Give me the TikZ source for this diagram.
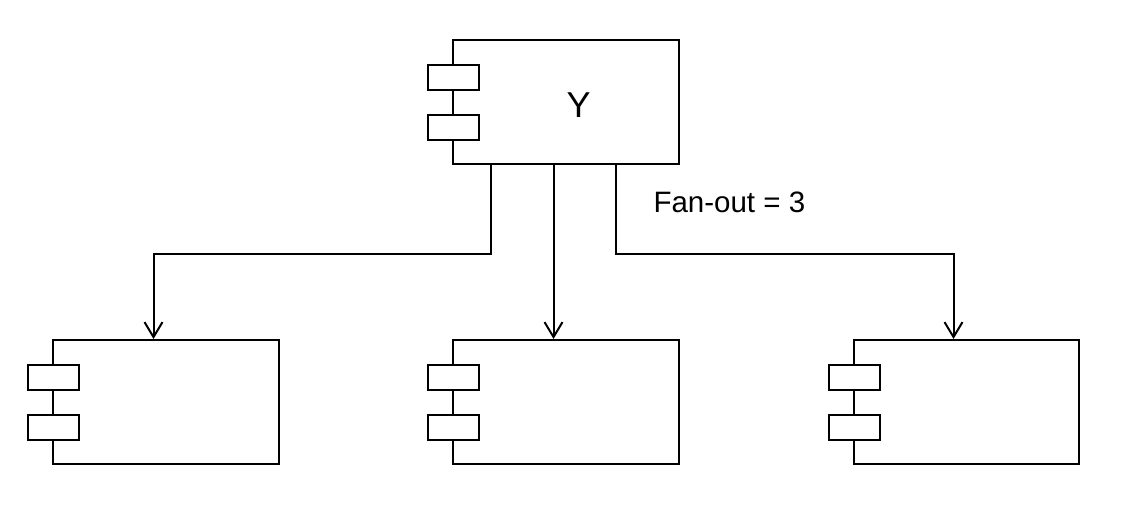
\documentclass[tikz,border=0pt]{standalone}
\usepackage{fontspec}
\setmainfont{Liberation Sans}
\usetikzlibrary{arrows.meta}
\tikzset{
comp/.style={draw, line width=2pt, minimum width=225.5pt, minimum height=124pt, inner sep=0pt},
port/.style={draw, fill=white, line width=2pt, minimum width=51pt, minimum height=25pt, inner sep=0pt},
link/.style={line width=2pt, -{Straight Barb[length=15pt,width=18pt,line width=2pt]}},
component/.pic={
  \node[comp] (-box) at (0,0) {};
  \node[port] (-porta) at (-112.5,-25) {};
  \node[port] (-portb) at (-112.5,25) {};
  }
}
\begin{document}
\begin{tikzpicture}[x=1pt, y=-1pt]
\useasboundingbox (0,0) rectangle (1122,504);
  \pic (top) at (566,102) {component};
  \pic (left) at (166,402) {component};
  \pic (mid) at (566,402) {component};
  \pic (right) at (966.5,402) {component};
\node[anchor=base, inner sep=0pt, font=\fontsize{36}{40}\selectfont] (ylabel) at (578.5,117.3) {Y};
\node[anchor=base west, inner sep=0pt, font=\fontsize{29.5}{34}\selectfont] (fanout) at (653.3,212.7) {Fan-out = 3};
\draw[link] ([xshift=-75pt]top-box.south) -- ++(0,88.5) -| ([xshift=-12.5pt]left-box.north);
\draw[link] ([xshift=-12.5pt]top-box.south) -- ([xshift=-12.5pt]mid-box.north);
\draw[link] ([xshift=50pt]top-box.south) -- ++(0,88.5) -| ([xshift=-13pt]right-box.north);
\end{tikzpicture}
\end{document}
